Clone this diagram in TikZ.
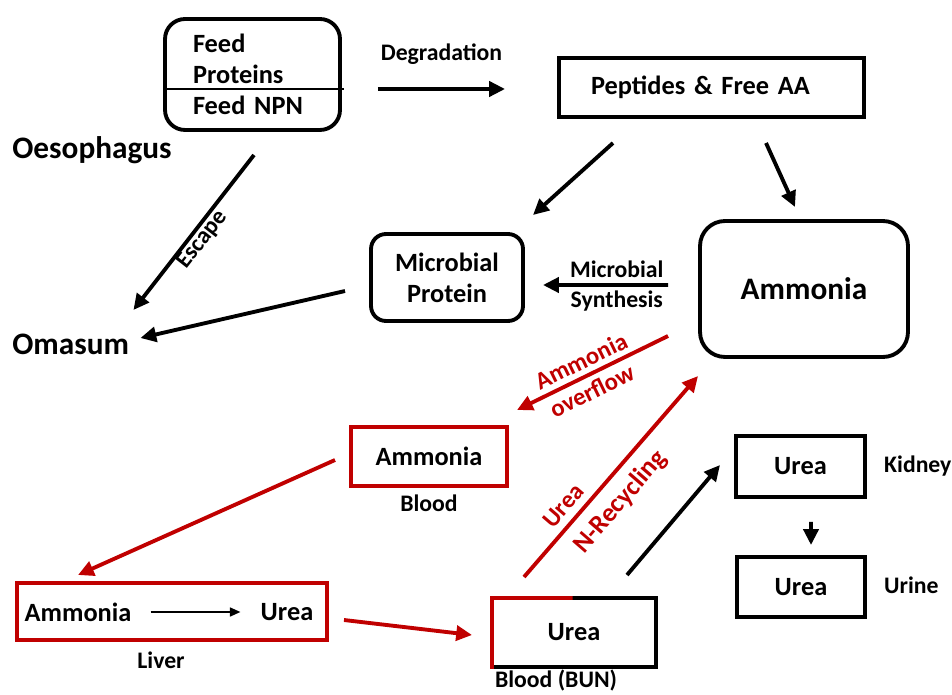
\documentclass[tikz,border=0pt]{standalone}
\usepackage{fontspec}
\setmainfont{Carlito}
\usetikzlibrary{arrows.meta, calc, positioning}
\definecolor{dred}{HTML}{C00000}

\begin{document}
\begin{tikzpicture}[
  x=0.02cm, y=-0.02cm,
  every node/.style={font=\fontsize{15}{17.6}\selectfont\bfseries},
  lbl/.style={font=\fontsize{13.5}{16}\selectfont\bfseries},
  big/.style={font=\fontsize{17.8}{20}\selectfont\bfseries},
  box/.style={draw, line width=2.2pt, outer sep=0pt},
  rbox/.style={box, draw=dred},
  arr/.style={-{Triangle[length=9pt,width=8.5pt]}, line width=2.2pt},
  rarr/.style={arr, dred},
  rlbl/.style={font=\fontsize{14}{16}\selectfont\bfseries, text=dred, sloped, inner sep=1pt}
]
  \useasboundingbox (0,0) rectangle (952,695);

  % rumen
  \node[box, rounded corners=0.4cm, minimum width=3.46cm, minimum height=2.22cm,
        text width=2.38cm, inner xsep=0.56cm, align=left] (feed) at (252.5,74.5)
        {Feed\\Proteins\\Feed NPN};
  \draw[line width=0.9pt] ([shift={(0,14.5)}]feed.west) -- ([shift={(4,14.5)}]feed.east);
  \node[box, minimum width=6.1cm, minimum height=1.18cm, text width=4.82cm,
        inner xsep=0.64cm, align=left] (pep) at (711.5,87.5) {Peptides \& Free AA};
  \node[box, rounded corners=0.5cm, minimum width=4.16cm, minimum height=2.72cm,
        big] (amm) at (804,289) {Ammonia};
  \node[box, rounded corners=0.3cm, minimum width=3.04cm, minimum height=1.74cm,
        align=center] (micro) at (447,277.5) {Microbial\\Protein};
  \node[big, anchor=west, inner sep=0pt] (oeso) at (12,150) {Oesophagus};
  \node[big, anchor=west, inner sep=0pt] (omas) at (12,344) {Omasum};

  % blood, liver, kidney
  \node[rbox, minimum width=3.12cm, minimum height=1.18cm] (bamm) at (429,456.5) {Ammonia};
  \node[lbl, below=0.05cm of bamm] (bamml) {Blood};
  \node[rbox, minimum width=6.2cm, minimum height=1.14cm] (liver) at (172,611.5) {};
  \node (lamm) at (78,612) {Ammonia};
  \node (lurea) at (287,612) {Urea};
  \node[lbl, below=0.12cm of liver, xshift=-0.22cm] (liverl) {Liver};
  \node[minimum width=3.28cm, minimum height=1.38cm, outer sep=0pt] (bun) at (574,632.5) {Urea};
  \draw[line width=2.2pt, line cap=rect] ($(bun.north west)!0.48!(bun.north east)$)
    -- (bun.north east) -- (bun.south east) -- (bun.south west);
  \draw[line width=2.2pt, line cap=rect, dred] (bun.south west) -- (bun.north west)
    -- ($(bun.north west)!0.48!(bun.north east)$);
  \node[lbl, below=-0.06cm of bun, xshift=-0.36cm] (bunl) {Blood (BUN)};
  \node[box, minimum width=2.58cm, minimum height=1.22cm] (kid) at (800.5,466.5) {Urea};
  \node[lbl, right=0.26cm of kid] (kidl) {Kidney};
  \node[box, minimum width=2.56cm, minimum height=1.2cm] (uri) at (801,587) {Urea};
  \node[lbl, right=0.26cm of uri, yshift=0.04cm] (uril) {Urine};

  % black arrows
  \draw[arr] ([shift={(38,14.5)}]feed.east) -- node[lbl, above=0.34cm] {Degradation}
    ([shift={(-54,1.5)}]pep.west);
  \draw[arr] ([shift={(-98.5,26)}]pep.south) -- ([shift={(86,-19)}]micro.north);
  \draw[arr] ([shift={(54.5,26)}]pep.south) -- ([shift={(-9,-14)}]amm.north);
  \draw[arr] ([shift={(1.5,25)}]feed.south) -- node[lbl, sloped, below, inner sep=0pt] {Escape}
    ([shift={(4,-34)}]omas.east);
  \draw[arr] ([shift={(-26,13.5)}]micro.west) -- ([shift={(11,-6)}]omas.east);
  \draw[arr] ([shift={(-32,-4)}]amm.west)
    -- node[lbl, above=2pt, pos=0.41, inner sep=1pt] {Microbial}
       node[lbl, below=1pt, pos=0.41, inner sep=1pt] {Synthesis}
    ([shift={(20,7.5)}]micro.east);
  \draw[-{Triangle[length=6pt,width=5pt]}, line width=1.2pt, shorten <=0.26cm,
        shorten >=0.28cm] (lamm) -- (lurea);
  \draw[arr] ([shift={(53,-23)}]bun.north) -- ([shift={(-16,-1.5)}]kid.west);
  \draw[arr] ([shift={(10.5,25)}]kid.south) -- ([shift={(10,-12)}]uri.north);

  % red arrows
  \draw[rarr] ([shift={(-32,47)}]amm.west)
    -- node[rlbl, above=2pt, pos=0.53] {Ammonia}
       node[rlbl, below=2pt, pos=0.55] {overflow}
    ([shift={(10,-17)}]bamm.north east);
  \draw[rarr] ([shift={(-16,3.5)}]bamm.west) -- ([shift={(-94,-8)}]liver.north);
  \draw[rarr] ([shift={(17,8.5)}]liver.east) -- ([shift={(-20,2.5)}]bun.west);
  \draw[rarr] ([shift={(-50,-21)}]bun.north)
    -- node[rlbl, above=3pt, pos=0.3] {Urea}
       node[rlbl, below=5pt, pos=0.45, font=\fontsize{15}{17}\selectfont\bfseries] {N-Recycling}
    ([shift={(-2,19)}]amm.south west);
\end{tikzpicture}
\end{document}
